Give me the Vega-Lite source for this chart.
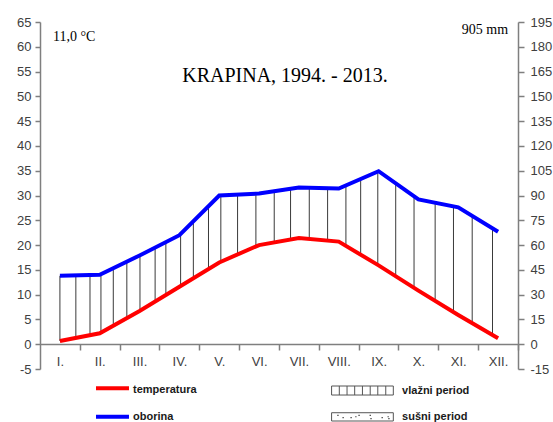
{
  "$schema": "https://vega.github.io/schema/vega-lite/v6.json",
  "width": 478,
  "height": 347,
  "autosize": {"type": "none"},
  "padding": {"left": 40, "top": 22, "right": 35, "bottom": 53},
  "background": "white",
  "config": {
    "view": {"stroke": null},
    "axis": {"grid": false, "domainColor": "#7f7f7f", "domainWidth": 1.5, "tickColor": "#7f7f7f", "tickWidth": 1.5, "labelFont": "Liberation Sans", "labelFontSize": 13, "labelColor": "#404040", "labelOverlap": false}
  },
  "datasets": {
    "climate": [
      {"month": 1, "temp": 0.65, "precip": 41.4},
      {"month": 2, "temp": 2.2, "precip": 42.0},
      {"month": 3, "temp": 6.7, "precip": 53.7},
      {"month": 4, "temp": 11.6, "precip": 66.0},
      {"month": 5, "temp": 16.5, "precip": 90.0},
      {"month": 6, "temp": 20.0, "precip": 91.2},
      {"month": 7, "temp": 21.4, "precip": 94.8},
      {"month": 8, "temp": 20.7, "precip": 94.2},
      {"month": 9, "temp": 15.9, "precip": 104.7},
      {"month": 10, "temp": 10.8, "precip": 87.6},
      {"month": 11, "temp": 5.9, "precip": 82.8},
      {"month": 12, "temp": 1.2, "precip": 68.1}
    ],
    "hatch": [
      {"x": 1.00, "lo": 0.65, "hi": 13.8},
      {"x": 1.40, "lo": 1.27, "hi": 13.88},
      {"x": 1.755, "lo": 1.82, "hi": 13.95},
      {"x": 2.03, "lo": 2.33, "hi": 14.12},
      {"x": 2.34, "lo": 3.73, "hi": 15.33},
      {"x": 2.68, "lo": 5.26, "hi": 16.65},
      {"x": 3.01, "lo": 6.75, "hi": 17.94},
      {"x": 3.39, "lo": 8.61, "hi": 19.5},
      {"x": 3.66, "lo": 9.93, "hi": 20.61},
      {"x": 4.03, "lo": 11.75, "hi": 22.24},
      {"x": 4.35, "lo": 13.32, "hi": 24.8},
      {"x": 4.73, "lo": 15.18, "hi": 27.84},
      {"x": 5.04, "lo": 16.64, "hi": 30.02},
      {"x": 5.46, "lo": 18.11, "hi": 30.18},
      {"x": 5.92, "lo": 19.72, "hi": 30.37},
      {"x": 6.38, "lo": 20.53, "hi": 30.86},
      {"x": 6.79, "lo": 21.11, "hi": 31.35},
      {"x": 7.26, "lo": 21.22, "hi": 31.55},
      {"x": 7.72, "lo": 20.9, "hi": 31.46},
      {"x": 8.18, "lo": 19.84, "hi": 32.03},
      {"x": 8.55, "lo": 18.06, "hi": 33.33},
      {"x": 8.98, "lo": 16.0, "hi": 34.83},
      {"x": 9.43, "lo": 13.71, "hi": 32.45},
      {"x": 9.89, "lo": 11.36, "hi": 29.83},
      {"x": 10.42, "lo": 8.74, "hi": 28.53},
      {"x": 10.88, "lo": 6.49, "hi": 27.79},
      {"x": 11.35, "lo": 4.26, "hi": 25.89},
      {"x": 11.86, "lo": 1.86, "hi": 23.39}
    ],
    "legendLines": [
      {"series": "temperatura", "x": 1.906, "x2": 2.734, "y": -8.9},
      {"series": "oborina", "x": 1.906, "x2": 2.734, "y": -14.63}
    ],
    "legendText": [
      {"label": "temperatura", "x": 2.835, "y": -9.24},
      {"label": "oborina", "x": 2.835, "y": -14.6},
      {"label": "vlažni period", "x": 9.59, "y": -9.44},
      {"label": "sušni period", "x": 9.59, "y": -14.63}
    ],
    "legendBoxes": [
      {"period": "vlažni period", "x": 7.82, "x2": 9.37, "y": -8.43, "y2": -10.25},
      {"period": "sušni period", "x": 7.82, "x2": 9.37, "y": -13.82, "y2": -15.49}
    ],
    "legendHatch": [
      {"x": 8.014, "y": -8.43, "y2": -10.25},
      {"x": 8.208, "y": -8.43, "y2": -10.25},
      {"x": 8.40, "y": -8.43, "y2": -10.25},
      {"x": 8.595, "y": -8.43, "y2": -10.25},
      {"x": 8.79, "y": -8.43, "y2": -10.25},
      {"x": 8.98, "y": -8.43, "y2": -10.25},
      {"x": 9.18, "y": -8.43, "y2": -10.25}
    ],
    "legendDots": [
      {"x": 7.98, "y": -14.34},
      {"x": 8.11, "y": -14.83},
      {"x": 8.31, "y": -14.83},
      {"x": 8.43, "y": -14.63},
      {"x": 8.51, "y": -14.34},
      {"x": 8.79, "y": -14.34},
      {"x": 8.81, "y": -15.03},
      {"x": 9.09, "y": -14.83},
      {"x": 9.24, "y": -14.63},
      {"x": 9.26, "y": -15.03}
    ]
  },
  "layer": [
    {
      "layer": [
        {
          "data": {"name": "hatch"},
          "mark": {"type": "rule", "color": "#3a3a3a", "strokeWidth": 1},
          "encoding": {
            "x": {"field": "x", "type": "quantitative", "scale": {"domain": [0.5, 12.5], "nice": false, "zero": false},
              "axis": {"title": null, "values": [1,2,3,4,5,6,7,8,9,10,11,12], "tickCount": 30, "labelExpr": "['I.','II.','III.','IV.','V.','VI.','VII.','VIII.','IX.','X.','XI.','XII.'][datum.value - 1]", "tickOffset": 19.9, "labelOffset": -19.9, "offset": -25, "tickSize": 6, "labelPadding": 5, "labelFlush": false, "labelOverlap": false}},
            "y": {"field": "lo", "type": "quantitative", "scale": {"domain": [-5, 65], "nice": false, "zero": false},
              "axis": {"title": null, "orient": "left", "values": [-5,0,5,10,15,20,25,30,35,40,45,50,55,60,65], "tickCount": 30, "labelExpr": "'' + datum.value", "labelOverlap": false, "labelFlush": false, "tickSize": 5, "labelPadding": 4}},
            "y2": {"field": "hi"}
          }
        },
        {
          "data": {"name": "climate"},
          "mark": {"type": "line", "color": "#ff0000", "strokeWidth": 4},
          "encoding": {
            "x": {"field": "month", "type": "quantitative", "axis": {"title": null}},
            "y": {"field": "temp", "type": "quantitative", "axis": {"title": null}}
          }
        },
        {
          "data": {"values": [{"label": "KRAPINA, 1994. - 2013.", "x": 6.65, "y": 54.1}]},
          "mark": {"type": "text", "font": "Liberation Serif", "fontSize": 20, "color": "#000000", "align": "center", "baseline": "middle"},
          "encoding": {
            "x": {"field": "x", "type": "quantitative", "axis": {"title": null}},
            "y": {"field": "y", "type": "quantitative", "axis": {"title": null}},
            "text": {"field": "label"}
          }
        },
        {
          "data": {"values": [{"label": "11,0 °C", "x": 0.826, "y": 62.0}]},
          "mark": {"type": "text", "font": "Liberation Serif", "fontSize": 14, "color": "#000000", "align": "left", "baseline": "middle"},
          "encoding": {
            "x": {"field": "x", "type": "quantitative", "axis": {"title": null}},
            "y": {"field": "y", "type": "quantitative", "axis": {"title": null}},
            "text": {"field": "label"}
          }
        },
        {
          "data": {"values": [{"label": "905 mm", "x": 12.25, "y": 63.4}]},
          "mark": {"type": "text", "font": "Liberation Serif", "fontSize": 14, "color": "#000000", "align": "right", "baseline": "middle"},
          "encoding": {
            "x": {"field": "x", "type": "quantitative", "axis": {"title": null}},
            "y": {"field": "y", "type": "quantitative", "axis": {"title": null}},
            "text": {"field": "label"}
          }
        },
        {
          "data": {"name": "legendLines"},
          "mark": {"type": "rule", "strokeWidth": 4},
          "encoding": {
            "x": {"field": "x", "type": "quantitative", "axis": {"title": null}},
            "x2": {"field": "x2"},
            "y": {"field": "y", "type": "quantitative", "axis": {"title": null}},
            "color": {"field": "series", "type": "nominal", "scale": {"domain": ["temperatura", "oborina"], "range": ["#ff0000", "#0000ff"]}, "legend": null}
          }
        },
        {
          "data": {"name": "legendText"},
          "mark": {"type": "text", "font": "Liberation Sans", "fontWeight": "bold", "fontSize": 11, "color": "#1a1a1a", "align": "left", "baseline": "middle"},
          "encoding": {
            "x": {"field": "x", "type": "quantitative", "axis": {"title": null}},
            "y": {"field": "y", "type": "quantitative", "axis": {"title": null}},
            "text": {"field": "label"}
          }
        },
        {
          "data": {"name": "legendBoxes"},
          "mark": {"type": "rect", "fill": "white", "stroke": "#555555", "strokeWidth": 1},
          "encoding": {
            "x": {"field": "x", "type": "quantitative", "axis": {"title": null}},
            "x2": {"field": "x2"},
            "y": {"field": "y", "type": "quantitative", "axis": {"title": null}},
            "y2": {"field": "y2"}
          }
        },
        {
          "data": {"name": "legendHatch"},
          "mark": {"type": "rule", "color": "#555555", "strokeWidth": 1},
          "encoding": {
            "x": {"field": "x", "type": "quantitative", "axis": {"title": null}},
            "y": {"field": "y", "type": "quantitative", "axis": {"title": null}},
            "y2": {"field": "y2"}
          }
        },
        {
          "data": {"name": "legendDots"},
          "mark": {"type": "square", "color": "#333333", "size": 1.5, "opacity": 1},
          "encoding": {
            "x": {"field": "x", "type": "quantitative", "axis": {"title": null}},
            "y": {"field": "y", "type": "quantitative", "axis": {"title": null}}
          }
        }
      ]
    },
    {
      "data": {"name": "climate"},
      "mark": {"type": "line", "color": "#0000ff", "strokeWidth": 4},
      "encoding": {
        "x": {"field": "month", "type": "quantitative", "axis": {"title": null}},
        "y": {"field": "precip", "type": "quantitative", "scale": {"domain": [-15, 195], "nice": false, "zero": false},
          "axis": {"title": null, "orient": "right", "values": [-15,0,15,30,45,60,75,90,105,120,135,150,165,180,195], "tickCount": 30, "labelExpr": "'' + datum.value", "labelOverlap": false, "labelFlush": false, "tickSize": 6, "labelPadding": 6}}
      }
    }
  ],
  "resolve": {"scale": {"y": "independent"}, "axis": {"y": "independent"}}
}
